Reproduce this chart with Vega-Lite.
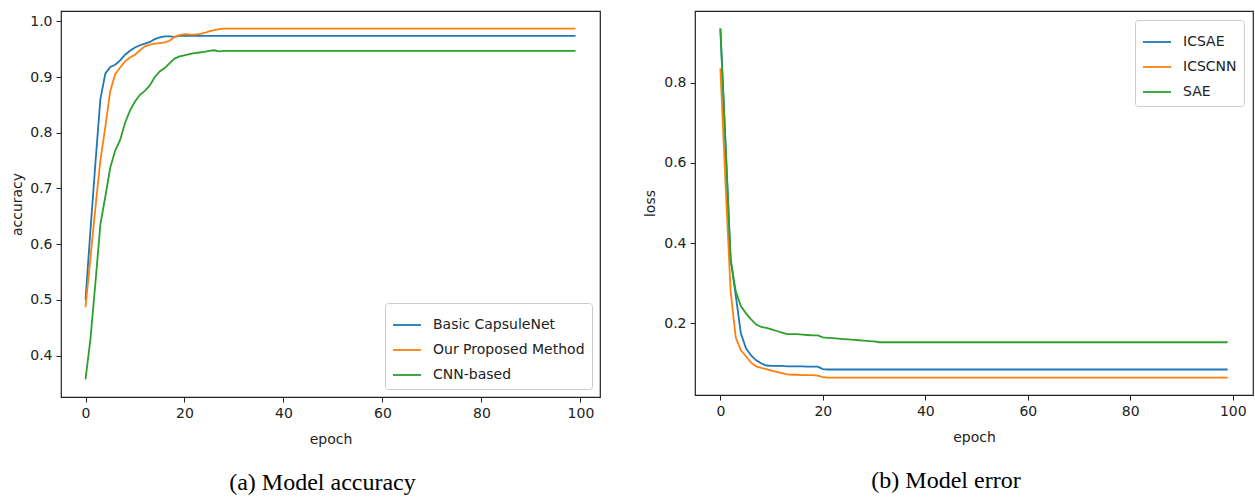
{
  "$schema": "https://vega.github.io/schema/vega-lite/v6.json",
  "padding": {"left": 10, "top": 10, "right": 3, "bottom": 0},
  "background": "white",
  "config": {
    "view": {"stroke": "#222", "strokeWidth": 1.2},
    "axis": {"domain": false, "grid": false, "tickColor": "#222", "tickSize": 5, "tickWidth": 1,
      "labelFont": "DejaVu Sans", "labelFontSize": 14, "labelColor": "#222", "labelPadding": 4,
      "titleFont": "DejaVu Sans", "titleFontSize": 14, "titleFontWeight": "normal", "titleColor": "#222"},
    "legend": {"symbolType": "stroke", "symbolSize": 784, "symbolStrokeWidth": 1.8, "labelOffset": 11,
      "rowPadding": 3, "padding": 7, "strokeColor": "#cccccc", "fillColor": "white", "cornerRadius": 3,
      "labelFont": "DejaVu Sans", "labelFontSize": 14, "labelColor": "#222", "labelLimit": 300},
    "title": {"font": "Liberation Serif", "fontSize": 24, "fontWeight": "normal", "color": "#000", "orient": "bottom"}
  },
  "datasets": {
    "acc": [
      {"epoch": 0, "model": "Basic CapsuleNet", "v": 0.50},
      {"epoch": 1, "model": "Basic CapsuleNet", "v": 0.625},
      {"epoch": 2, "model": "Basic CapsuleNet", "v": 0.745},
      {"epoch": 3, "model": "Basic CapsuleNet", "v": 0.86},
      {"epoch": 4, "model": "Basic CapsuleNet", "v": 0.906},
      {"epoch": 5, "model": "Basic CapsuleNet", "v": 0.918},
      {"epoch": 6, "model": "Basic CapsuleNet", "v": 0.922},
      {"epoch": 7, "model": "Basic CapsuleNet", "v": 0.93},
      {"epoch": 8, "model": "Basic CapsuleNet", "v": 0.94},
      {"epoch": 9, "model": "Basic CapsuleNet", "v": 0.947},
      {"epoch": 10, "model": "Basic CapsuleNet", "v": 0.953},
      {"epoch": 11, "model": "Basic CapsuleNet", "v": 0.957},
      {"epoch": 12, "model": "Basic CapsuleNet", "v": 0.96},
      {"epoch": 13, "model": "Basic CapsuleNet", "v": 0.963},
      {"epoch": 14, "model": "Basic CapsuleNet", "v": 0.968},
      {"epoch": 15, "model": "Basic CapsuleNet", "v": 0.971},
      {"epoch": 16, "model": "Basic CapsuleNet", "v": 0.973},
      {"epoch": 17, "model": "Basic CapsuleNet", "v": 0.973},
      {"epoch": 18, "model": "Basic CapsuleNet", "v": 0.972},
      {"epoch": 19, "model": "Basic CapsuleNet", "v": 0.974},
      {"epoch": 20, "model": "Basic CapsuleNet", "v": 0.974},
      {"epoch": 99, "model": "Basic CapsuleNet", "v": 0.974},
      {"epoch": 0, "model": "Our Proposed Method", "v": 0.487},
      {"epoch": 1, "model": "Our Proposed Method", "v": 0.575},
      {"epoch": 2, "model": "Our Proposed Method", "v": 0.665},
      {"epoch": 3, "model": "Our Proposed Method", "v": 0.75},
      {"epoch": 4, "model": "Our Proposed Method", "v": 0.81},
      {"epoch": 5, "model": "Our Proposed Method", "v": 0.875},
      {"epoch": 6, "model": "Our Proposed Method", "v": 0.905},
      {"epoch": 7, "model": "Our Proposed Method", "v": 0.917},
      {"epoch": 8, "model": "Our Proposed Method", "v": 0.928},
      {"epoch": 9, "model": "Our Proposed Method", "v": 0.935},
      {"epoch": 10, "model": "Our Proposed Method", "v": 0.94},
      {"epoch": 11, "model": "Our Proposed Method", "v": 0.948},
      {"epoch": 12, "model": "Our Proposed Method", "v": 0.955},
      {"epoch": 13, "model": "Our Proposed Method", "v": 0.958},
      {"epoch": 14, "model": "Our Proposed Method", "v": 0.96},
      {"epoch": 15, "model": "Our Proposed Method", "v": 0.961},
      {"epoch": 16, "model": "Our Proposed Method", "v": 0.962},
      {"epoch": 17, "model": "Our Proposed Method", "v": 0.965},
      {"epoch": 18, "model": "Our Proposed Method", "v": 0.972},
      {"epoch": 19, "model": "Our Proposed Method", "v": 0.975},
      {"epoch": 20, "model": "Our Proposed Method", "v": 0.977},
      {"epoch": 21, "model": "Our Proposed Method", "v": 0.976},
      {"epoch": 22, "model": "Our Proposed Method", "v": 0.976},
      {"epoch": 23, "model": "Our Proposed Method", "v": 0.977},
      {"epoch": 24, "model": "Our Proposed Method", "v": 0.979},
      {"epoch": 25, "model": "Our Proposed Method", "v": 0.982},
      {"epoch": 26, "model": "Our Proposed Method", "v": 0.984},
      {"epoch": 27, "model": "Our Proposed Method", "v": 0.986},
      {"epoch": 28, "model": "Our Proposed Method", "v": 0.987},
      {"epoch": 99, "model": "Our Proposed Method", "v": 0.987},
      {"epoch": 0, "model": "CNN-based", "v": 0.357},
      {"epoch": 1, "model": "CNN-based", "v": 0.43},
      {"epoch": 2, "model": "CNN-based", "v": 0.53},
      {"epoch": 3, "model": "CNN-based", "v": 0.635},
      {"epoch": 4, "model": "CNN-based", "v": 0.685},
      {"epoch": 5, "model": "CNN-based", "v": 0.737},
      {"epoch": 6, "model": "CNN-based", "v": 0.768},
      {"epoch": 7, "model": "CNN-based", "v": 0.787},
      {"epoch": 8, "model": "CNN-based", "v": 0.818},
      {"epoch": 9, "model": "CNN-based", "v": 0.84},
      {"epoch": 10, "model": "CNN-based", "v": 0.856},
      {"epoch": 11, "model": "CNN-based", "v": 0.868},
      {"epoch": 12, "model": "CNN-based", "v": 0.875},
      {"epoch": 13, "model": "CNN-based", "v": 0.885},
      {"epoch": 14, "model": "CNN-based", "v": 0.9},
      {"epoch": 15, "model": "CNN-based", "v": 0.91},
      {"epoch": 16, "model": "CNN-based", "v": 0.916},
      {"epoch": 17, "model": "CNN-based", "v": 0.925},
      {"epoch": 18, "model": "CNN-based", "v": 0.933},
      {"epoch": 19, "model": "CNN-based", "v": 0.937},
      {"epoch": 20, "model": "CNN-based", "v": 0.939},
      {"epoch": 21, "model": "CNN-based", "v": 0.941},
      {"epoch": 22, "model": "CNN-based", "v": 0.943},
      {"epoch": 23, "model": "CNN-based", "v": 0.944},
      {"epoch": 24, "model": "CNN-based", "v": 0.945},
      {"epoch": 25, "model": "CNN-based", "v": 0.947},
      {"epoch": 26, "model": "CNN-based", "v": 0.948},
      {"epoch": 27, "model": "CNN-based", "v": 0.946},
      {"epoch": 28, "model": "CNN-based", "v": 0.947},
      {"epoch": 99, "model": "CNN-based", "v": 0.947}
    ],
    "loss": [
      {"epoch": 0, "model": "ICSAE", "v": 0.935},
      {"epoch": 1, "model": "ICSAE", "v": 0.65},
      {"epoch": 2, "model": "ICSAE", "v": 0.36},
      {"epoch": 3, "model": "ICSAE", "v": 0.27},
      {"epoch": 4, "model": "ICSAE", "v": 0.175},
      {"epoch": 5, "model": "ICSAE", "v": 0.138},
      {"epoch": 6, "model": "ICSAE", "v": 0.12},
      {"epoch": 7, "model": "ICSAE", "v": 0.108},
      {"epoch": 8, "model": "ICSAE", "v": 0.1},
      {"epoch": 9, "model": "ICSAE", "v": 0.095},
      {"epoch": 10, "model": "ICSAE", "v": 0.094},
      {"epoch": 11, "model": "ICSAE", "v": 0.094},
      {"epoch": 12, "model": "ICSAE", "v": 0.094},
      {"epoch": 13, "model": "ICSAE", "v": 0.093},
      {"epoch": 14, "model": "ICSAE", "v": 0.093},
      {"epoch": 15, "model": "ICSAE", "v": 0.093},
      {"epoch": 16, "model": "ICSAE", "v": 0.093},
      {"epoch": 17, "model": "ICSAE", "v": 0.092},
      {"epoch": 18, "model": "ICSAE", "v": 0.092},
      {"epoch": 19, "model": "ICSAE", "v": 0.092},
      {"epoch": 20, "model": "ICSAE", "v": 0.086},
      {"epoch": 21, "model": "ICSAE", "v": 0.085},
      {"epoch": 99, "model": "ICSAE", "v": 0.085},
      {"epoch": 0, "model": "ICSCNN", "v": 0.835},
      {"epoch": 1, "model": "ICSCNN", "v": 0.55},
      {"epoch": 2, "model": "ICSCNN", "v": 0.28},
      {"epoch": 3, "model": "ICSCNN", "v": 0.165},
      {"epoch": 4, "model": "ICSCNN", "v": 0.133},
      {"epoch": 5, "model": "ICSCNN", "v": 0.118},
      {"epoch": 6, "model": "ICSCNN", "v": 0.102},
      {"epoch": 7, "model": "ICSCNN", "v": 0.093},
      {"epoch": 8, "model": "ICSCNN", "v": 0.089},
      {"epoch": 9, "model": "ICSCNN", "v": 0.086},
      {"epoch": 10, "model": "ICSCNN", "v": 0.082},
      {"epoch": 11, "model": "ICSCNN", "v": 0.079},
      {"epoch": 12, "model": "ICSCNN", "v": 0.076},
      {"epoch": 13, "model": "ICSCNN", "v": 0.073},
      {"epoch": 14, "model": "ICSCNN", "v": 0.072},
      {"epoch": 15, "model": "ICSCNN", "v": 0.072},
      {"epoch": 16, "model": "ICSCNN", "v": 0.071},
      {"epoch": 17, "model": "ICSCNN", "v": 0.071},
      {"epoch": 18, "model": "ICSCNN", "v": 0.071},
      {"epoch": 19, "model": "ICSCNN", "v": 0.07},
      {"epoch": 20, "model": "ICSCNN", "v": 0.066},
      {"epoch": 21, "model": "ICSCNN", "v": 0.065},
      {"epoch": 99, "model": "ICSCNN", "v": 0.065},
      {"epoch": 0, "model": "SAE", "v": 0.935},
      {"epoch": 1, "model": "SAE", "v": 0.65},
      {"epoch": 2, "model": "SAE", "v": 0.36},
      {"epoch": 3, "model": "SAE", "v": 0.28},
      {"epoch": 4, "model": "SAE", "v": 0.243},
      {"epoch": 5, "model": "SAE", "v": 0.225},
      {"epoch": 6, "model": "SAE", "v": 0.21},
      {"epoch": 7, "model": "SAE", "v": 0.197},
      {"epoch": 8, "model": "SAE", "v": 0.191},
      {"epoch": 9, "model": "SAE", "v": 0.189},
      {"epoch": 10, "model": "SAE", "v": 0.185},
      {"epoch": 11, "model": "SAE", "v": 0.181},
      {"epoch": 12, "model": "SAE", "v": 0.177},
      {"epoch": 13, "model": "SAE", "v": 0.173},
      {"epoch": 14, "model": "SAE", "v": 0.173},
      {"epoch": 15, "model": "SAE", "v": 0.173},
      {"epoch": 16, "model": "SAE", "v": 0.172},
      {"epoch": 17, "model": "SAE", "v": 0.171},
      {"epoch": 18, "model": "SAE", "v": 0.17},
      {"epoch": 19, "model": "SAE", "v": 0.17},
      {"epoch": 20, "model": "SAE", "v": 0.165},
      {"epoch": 21, "model": "SAE", "v": 0.164},
      {"epoch": 22, "model": "SAE", "v": 0.163},
      {"epoch": 23, "model": "SAE", "v": 0.162},
      {"epoch": 24, "model": "SAE", "v": 0.161},
      {"epoch": 25, "model": "SAE", "v": 0.16},
      {"epoch": 26, "model": "SAE", "v": 0.159},
      {"epoch": 27, "model": "SAE", "v": 0.158},
      {"epoch": 28, "model": "SAE", "v": 0.157},
      {"epoch": 29, "model": "SAE", "v": 0.156},
      {"epoch": 30, "model": "SAE", "v": 0.155},
      {"epoch": 31, "model": "SAE", "v": 0.153},
      {"epoch": 99, "model": "SAE", "v": 0.153}
    ]
  },
  "resolve": {"scale": {"color": "independent", "x": "independent", "y": "independent"}, "legend": {"color": "independent"}},
  "spacing": 42,
  "hconcat": [
    {
      "width": 539, "height": 386,
      "data": {"name": "acc"},
      "title": {"text": "(a) Model accuracy", "offset": 25, "frame": "group", "dx": -8},
      "mark": {"type": "line", "strokeWidth": 1.8},
      "encoding": {
        "x": {"field": "epoch", "type": "quantitative",
          "scale": {"domain": [-4.95, 103.95], "nice": false, "zero": false},
          "axis": {"values": [0, 20, 40, 60, 80, 100], "title": "epoch", "titlePadding": 12}},
        "y": {"field": "v", "type": "quantitative",
          "scale": {"domain": [0.3255, 1.0185], "nice": false, "zero": false},
          "axis": {"values": [0.4, 0.5, 0.6, 0.7, 0.8, 0.9, 1.0], "format": ".1f", "title": "accuracy", "titlePadding": 5}},
        "color": {"field": "model", "type": "nominal",
          "scale": {"domain": ["Basic CapsuleNet", "Our Proposed Method", "CNN-based"], "range": ["#1f77b4", "#ff7f0e", "#2ca02c"]},
          "legend": {"title": null, "orient": "bottom-right", "offset": 8}}
      }
    },
    {
      "width": 558, "height": 384,
      "data": {"name": "loss"},
      "title": {"text": "(b) Model error", "offset": 25, "frame": "group", "dx": -28},
      "mark": {"type": "line", "strokeWidth": 1.8},
      "encoding": {
        "x": {"field": "epoch", "type": "quantitative",
          "scale": {"domain": [-4.95, 103.95], "nice": false, "zero": false},
          "axis": {"values": [0, 20, 40, 60, 80, 100], "title": "epoch", "titlePadding": 12}},
        "y": {"field": "v", "type": "quantitative",
          "scale": {"domain": [0.0215, 0.9785], "nice": false, "zero": false},
          "axis": {"values": [0.2, 0.4, 0.6, 0.8], "format": ".1f", "title": "loss", "titlePadding": 6}},
        "color": {"field": "model", "type": "nominal",
          "scale": {"domain": ["ICSAE", "ICSCNN", "SAE"], "range": ["#1f77b4", "#ff7f0e", "#2ca02c"]},
          "legend": {"title": null, "orient": "top-right", "offset": 9}}
      }
    }
  ]
}
